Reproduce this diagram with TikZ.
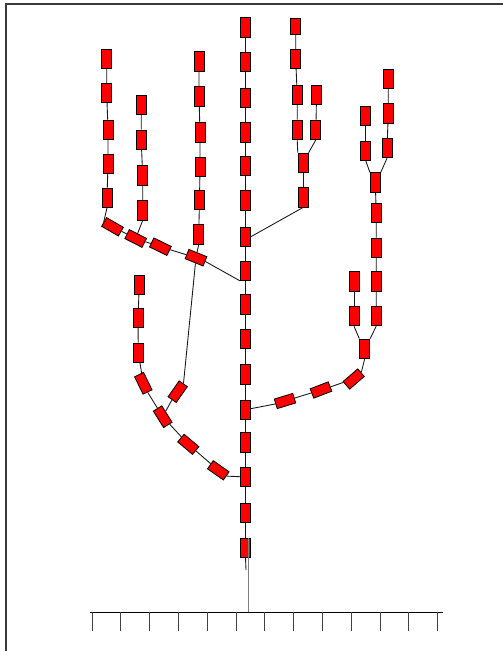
\documentclass[tikz,border=0pt]{standalone}
\usepackage{tikz}
\definecolor{rojo}{HTML}{FF0000}
\definecolor{marco}{HTML}{3A3A3A}
\definecolor{grisr}{HTML}{808080}
\tikzset{
  segmento/.style={rectangle, draw=black, fill=rojo, line width=0.7pt, inner sep=0pt,
                   minimum width=0.3cm, minimum height=0.58cm},
  enlace/.style={line width=0.75pt, color=black!90},
  regla/.style={line width=0.7pt, color=black},
  marca/.style={line width=0.8pt, color=grisr}
}
\begin{document}
\begin{tikzpicture}[x=0.03cm, y=-0.03cm]
  \useasboundingbox (0,0) rectangle (502,651);
  \draw [line width=0.9pt, color=marco] (6,655) -- (6,4) -- (505,4);

  % tronco
  \node (t1) at (245.5,27.5) [segmento] {};
  \node (t2) at (245.5,61.7) [segmento] {};
  \node (t3) at (245.5,98) [segmento] {};
  \node (t4) at (245.5,132.5) [segmento] {};
  \node (t5) at (245.5,165.7) [segmento] {};
  \node (t6) at (245.5,200.3) [segmento] {};
  \node (t7) at (245.5,236.7) [segmento] {};
  \node (t8) at (245.5,270.8) [segmento] {};
  \node (t9) at (245.5,304.3) [segmento] {};
  \node (t10) at (245.5,339) [segmento] {};
  \node (t11) at (245.5,374.3) [segmento] {};
  \node (t12) at (245.5,409.7) [segmento] {};
  \node (t13) at (245.5,442.5) [segmento] {};
  \node (t14) at (245.5,477) [segmento] {};
  \node (t15) at (245.5,513) [segmento] {};
  \node (t16) at (245.5,547.8) [segmento] {};
  \coordinate (raiz) at (246,570);

  % rama izquierda alta
  \node (a1) at (106.7,58.7) [segmento] {};
  \node (a2) at (106.7,93) [segmento] {};
  \node (a3) at (108,129.7) [segmento] {};
  \node (a4) at (108,164) [segmento] {};
  \node (a5) at (107,197.7) [segmento] {};
  \node (b1) at (141.2,105) [segmento] {};
  \node (b2) at (141.2,139.7) [segmento] {};
  \node (b3) at (142.7,175.5) [segmento] {};
  \node (b4) at (142.7,210.3) [segmento] {};
  \node (k1) at (199,61.5) [segmento] {};
  \node (k2) at (199,96.3) [segmento] {};
  \node (k3) at (200,132.5) [segmento] {};
  \node (k4) at (200,167) [segmento] {};
  \node (k5) at (199.5,200) [segmento] {};
  \node (k6) at (198.7,234.5) [segmento] {};
  \node (f1) at (112.5,226.8) [segmento, rotate=60] {};
  \node (f2) at (135.7,238.5) [segmento, rotate=63] {};
  \node (f3) at (160.4,246.7) [segmento, rotate=64] {};
  \node (f4) at (196,257.7) [segmento, rotate=68] {};

  % rama izquierda baja
  \node (d1) at (139.3,284.7) [segmento] {};
  \node (d2) at (138,318) [segmento] {};
  \node (d3) at (138.3,352.7) [segmento] {};
  \node (d4) at (143.3,383.3) [segmento, rotate=26] {};
  \node (g) at (177.7,391.7) [segmento, rotate=-35] {};
  \node (c3) at (162.7,416.7) [segmento, rotate=32] {};
  \node (c2) at (188.3,444.3) [segmento, rotate=50] {};
  \node (c1) at (218.3,470.3) [segmento, rotate=55] {};

  % rama derecha baja
  \node (r1) at (285,401) [segmento, rotate=-73] {};
  \node (r2) at (321,390) [segmento, rotate=-69] {};
  \node (r3) at (353.7,379) [segmento, rotate=-49] {};
  \node (r4) at (364.7,348.7) [segmento] {};
  \node (p1) at (354,316.2) [segmento] {};
  \node (p2) at (354,281.3) [segmento] {};
  \node (q1) at (376.2,316.2) [segmento] {};
  \node (q2) at (376.2,281.3) [segmento] {};
  \node (q3) at (376.2,247.8) [segmento] {};
  \node (q4) at (376.2,213) [segmento] {};
  \node (q5) at (375.3,182.5) [segmento] {};
  \node (s1) at (365.8,150.7) [segmento] {};
  \node (s2) at (365.8,116.2) [segmento] {};
  \node (u1) at (387,148.2) [segmento] {};
  \node (u2) at (388.3,113.3) [segmento] {};
  \node (u3) at (388.3,78.7) [segmento] {};

  % rama derecha alta
  \node (v1) at (303.2,197.3) [segmento] {};
  \node (v2) at (303.2,162.8) [segmento] {};
  \node (w1) at (297.2,129.7) [segmento] {};
  \node (w2) at (297.2,95) [segmento] {};
  \node (w3) at (295.7,59) [segmento] {};
  \node (w4) at (295.7,26.2) [segmento, minimum height=0.48cm] {};
  \node (z1) at (315.9,129.7) [segmento] {};
  \node (z2) at (316.5,95) [segmento] {};

  % enlaces
  \draw [enlace] (t1) -- (t2) -- (t3) -- (t4) -- (t5) -- (t6) -- (t7) -- (t8);
  \draw [enlace] (t8) -- (t9) -- (t10) -- (t11) -- (t12) -- (t13) -- (t14) -- (t15) -- (t16);
  \draw [enlace] (t16.south) -- (raiz);
  \draw [enlace] (a1) -- (a2) -- (a3) -- (a4) -- (a5);
  \draw [enlace] (a5.south) -- (f1.north);
  \draw [enlace] (f1) -- (f2) -- (f3) -- (f4);
  \draw [enlace] (b1) -- (b2) -- (b3) -- (b4);
  \draw [enlace] (b4.south) -- (f2);
  \draw [enlace] (k1) -- (k2) -- (k3) -- (k4) -- (k5) -- (k6);
  \draw [enlace] (k6.south) -- (f4);
  \draw [enlace] (f4.south) -- (t8.south west);
  \draw [enlace] (g.north) -- (f4);
  \draw [enlace] (d1) -- (d2) -- (d3) -- (d4);
  \draw [enlace] (d4.south) -- (c3);
  \draw [enlace] (g.south) -- (c3);
  \draw [enlace] (c3) -- (c2) -- (c1);
  \draw [enlace] (c1.south) -- (t14);
  \draw [enlace] (r1.south) -- (t12);
  \draw [enlace] (r1) -- (r2) -- (r3);
  \draw [enlace] (r3.north) -- (r4.south);
  \draw [enlace] (r4.north west) -- (p1.south);
  \draw [enlace] (r4.north east) -- (q1.south);
  \draw [enlace] (p1) -- (p2);
  \draw [enlace] (q1) -- (q2) -- (q3) -- (q4) -- (q5);
  \draw [enlace] (q5.north west) -- (s1.south);
  \draw [enlace] (q5.north east) -- (u1.south);
  \draw [enlace] (s1) -- (s2);
  \draw [enlace] (u1) -- (u2) -- (u3);
  \draw [enlace] (v1.south) -- (t7.east);
  \draw [enlace] (v1) -- (v2);
  \draw [enlace] (v2.north west) -- (w1.south);
  \draw [enlace] (v2.north east) -- (z1.south);
  \draw [enlace] (w1) -- (w2) -- (w3) -- (w4);
  \draw [enlace] (z1) -- (z2);

  % regla
  \draw [marca] (248,538) -- (248,612);
  \draw [regla] (90,612) -- (443,612);
  \foreach \k in {0,...,12}
    \draw [marca, color=black!75] (92+28.8*\k,612) -- (92+28.8*\k,631);
\end{tikzpicture}
\end{document}
